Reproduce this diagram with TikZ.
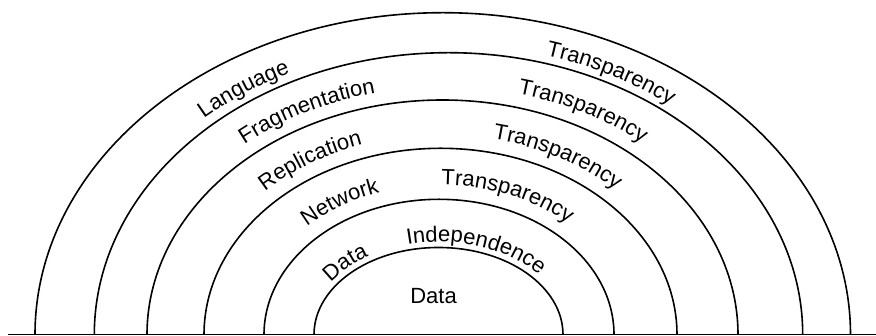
\documentclass[tikz,border=0pt]{standalone}
\usepackage{fontspec}
\setmainfont{Liberation Sans}
\usetikzlibrary{decorations.text}
\newcommand\arclabel[5]{%
  \pgfmathsetmacro\tA{#4+45}%
  \pgfmathsetmacro\tB{#4-45}%
  \path[decorate,decoration={text along path,text align=center,
    text={|\fontsize{22}{26}\selectfont|#5}}]
    (#1,1.3) ++(\tA:#2 and #3)
    arc[start angle=\tA,end angle=\tB,x radius=#2,y radius=#3];}
\begin{document}
\begin{tikzpicture}[x=1pt,y=1pt,ring/.style={line width=1.6pt,black}]
\useasboundingbox (0,0) rectangle (876,336);
\draw[ring] (8,1.3) coordinate (baseL) -- (876,1.3) coordinate (baseR);
\foreach \cx/\rx/\ry in {442.75/407.75/322, 448.5/354.2/282, 442.5/295.5/234.7,
                         440.5/236.5/186.4, 439/175/135.4, 438.5/124.5/87.2}
  \draw[ring] (\cx-\rx,1.3) arc[start angle=180,end angle=0,x radius=\rx,y radius=\ry];
% band 1
\arclabel{447.35}{364.9}{290}{126.5}{Language}
\arclabel{447.35}{364.9}{290}{61}{Transparency}
% band 2
\arclabel{444.2}{311.9}{248}{118.5}{Fragmentation}
\arclabel{444.2}{311.9}{248}{61.2}{Transparency}
% band 3
\arclabel{441.1}{253}{199.9}{123.7}{Replication}
\arclabel{441.1}{253}{199.9}{60}{Transparency}
% band 4
\arclabel{439.4}{192.2}{149.7}{123.6}{Network}
\arclabel{439.4}{192.2}{149.7}{67}{Transparency}
% band 5
\arclabel{438.6}{130.6}{93}{138.4}{Data}
\arclabel{438.6}{130.6}{93}{70.5}{Independence}
% core
\node[font=\fontsize{22}{26}\selectfont,anchor=base,inner sep=0pt] (core) at (433.5,32) {Data};
\end{tikzpicture}
\end{document}
